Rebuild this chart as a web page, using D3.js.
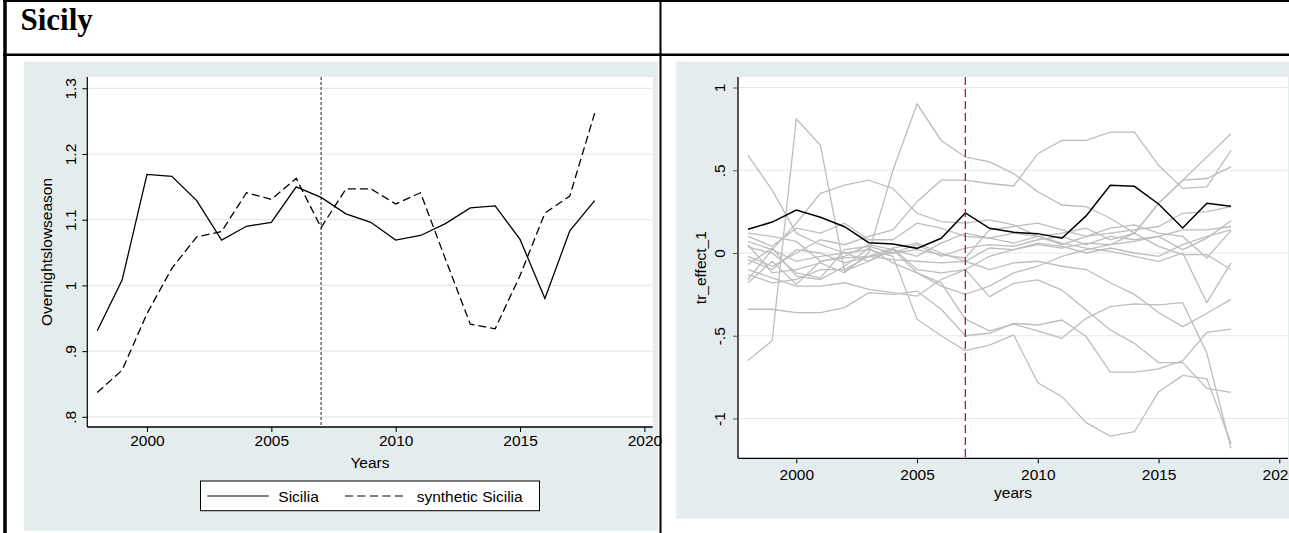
<!DOCTYPE html>
<html>
<head>
<meta charset="utf-8">
<script src="https://cdn.jsdelivr.net/npm/d3@7"></script>
<style>
  body { margin: 0; background: #fff; }
  svg { display: block; font-family: "Liberation Sans", Arial, Helvetica, sans-serif; }
</style>
</head>
<body>
<div id="chart"></div>
<script>
// ---- data ----
const years = [1998, 1999, 2000, 2001, 2002, 2003, 2004, 2005, 2006, 2007, 2008,
               2009, 2010, 2011, 2012, 2013, 2014, 2015, 2016, 2017, 2018];

const sicilia = [0.931, 1.008, 1.169, 1.166, 1.129, 1.069, 1.090, 1.096, 1.150, 1.134, 1.109,
                 1.096, 1.069, 1.076, 1.094, 1.118, 1.121, 1.070, 0.980, 1.083, 1.129];
const syntheticSicilia = [0.837, 0.871, 0.957, 1.026, 1.074, 1.082, 1.141, 1.131, 1.163, 1.088, 1.147,
                          1.147, 1.124, 1.141, 1.040, 0.941, 0.934, 1.015, 1.110, 1.136, 1.262];

const trEffectSicilia = [0.143, 0.187, 0.260, 0.216, 0.159, 0.062, 0.054, 0.028, 0.089, 0.242, 0.149,
                         0.125, 0.117, 0.089, 0.224, 0.409, 0.403, 0.296, 0.151, 0.300, 0.282];

// placebo effects of the donor regions
const placebo01 = [0.59, 0.38, 0.12, 0.05, 0.00, -0.05, 0.02, -0.02, 0.06, 0.12, 0.09, 0.06, 0.10, 0.12, 0.15, 0.08, 0.12, 0.30, 0.44, 0.45, 0.52];
const placebo02 = [-0.65, -0.53, 0.81, 0.65, -0.11, -0.05, 0.03, -0.10, -0.12, -0.10, -0.02, 0.02, 0.05, 0.03, 0.06, 0.05, 0.12, 0.30, 0.44, 0.58, 0.72];
const placebo03 = [0.05, -0.12, -0.10, -0.06, -0.12, 0.00, 0.50, 0.90, 0.68, 0.58, 0.55, 0.48, 0.37, 0.29, 0.28, 0.21, 0.12, 0.04, -0.01, -0.01, -0.10];
const placebo04 = [-0.16, 0.02, 0.18, 0.36, 0.41, 0.44, 0.39, 0.24, 0.19, 0.18, 0.20, 0.17, 0.10, 0.06, 0.03, 0.01, -0.02, -0.05, 0.00, -0.30, -0.06];
const placebo05 = [-0.02, -0.08, 0.00, 0.08, 0.05, 0.10, 0.14, 0.31, 0.44, 0.44, 0.42, 0.405, 0.60, 0.68, 0.68, 0.73, 0.73, 0.53, 0.39, 0.40, 0.62];
const placebo06 = [-0.34, -0.34, -0.36, -0.36, -0.33, -0.24, -0.25, -0.23, -0.34, -0.50, -0.485, -0.425, -0.435, -0.405, -0.505, -0.72, -0.72, -0.70, -0.65, -0.48, -0.46];
const placebo07 = [0.07, 0.02, -0.05, -0.02, 0.00, 0.02, -0.02, -0.40, -0.50, -0.59, -0.556, -0.495, -0.784, -0.868, -1.025, -1.106, -1.08, -0.84, -0.74, -0.76, -1.15];
const placebo08 = [-0.10, -0.15, -0.20, -0.20, -0.18, -0.22, -0.24, -0.26, -0.16, -0.10, -0.264, -0.183, -0.163, -0.224, -0.344, -0.465, -0.546, -0.662, -0.662, -0.818, -0.842];
const placebo09 = [-0.07, 0.03, -0.14, -0.16, -0.08, 0.03, -0.06, -0.12, -0.18, -0.40, -0.47, -0.43, -0.47, -0.515, -0.395, -0.324, -0.308, -0.314, -0.30, -0.606, -1.18];
const placebo10 = [-0.04, -0.10, 0.02, 0.00, -0.06, -0.02, -0.04, -0.05, -0.06, -0.05, -0.10, -0.06, -0.05, -0.08, -0.10, -0.18, -0.25, -0.36, -0.445, -0.364, -0.28];
const placebo11 = [0.10, 0.04, 0.15, 0.12, 0.18, 0.08, 0.08, 0.18, 0.15, 0.10, 0.09, 0.12, 0.10, 0.05, 0.10, 0.12, 0.14, 0.16, 0.24, 0.25, 0.28];
const placebo12 = [0.035, 0.00, -0.12, -0.15, 0.02, 0.04, 0.00, 0.05, -0.02, 0.03, 0.05, 0.04, 0.08, 0.10, 0.05, 0.10, 0.08, 0.10, 0.02, 0.09, 0.195];
const placebo13 = [-0.13, -0.18, -0.16, -0.10, -0.10, -0.02, 0.00, 0.02, -0.01, -0.03, 0.14, 0.16, 0.18, 0.14, 0.10, 0.15, 0.17, 0.12, 0.10, -0.03, 0.135];
const placebo14 = [0.12, 0.10, 0.07, -0.05, -0.02, 0.05, 0.02, -0.12, -0.20, -0.25, -0.20, -0.12, -0.08, -0.02, 0.02, 0.05, 0.07, 0.10, 0.14, 0.14, 0.16];
const placebo15 = [-0.18, -0.05, -0.19, -0.05, -0.03, -0.02, 0.03, 0.06, 0.00, -0.05, 0.03, 0.02, 0.06, 0.04, 0.00, 0.03, 0.00, -0.02, 0.05, 0.10, 0.14];
const placeboSeries = [placebo01, placebo02, placebo03, placebo04, placebo05, placebo06, placebo07, placebo08,
                       placebo09, placebo10, placebo11, placebo12, placebo13, placebo14, placebo15];

const xTicks = [2000, 2005, 2010, 2015, 2020];
const leftYTicks = [0.8, 0.9, 1, 1.1, 1.2, 1.3];
const leftYTickLabels = ['.8', '.9', '1', '1.1', '1.2', '1.3'];
const rightYTicks = [-1, -0.5, 0, 0.5, 1];
const rightYTickLabels = ['-1', '-.5', '0', '.5', '1'];
const treatmentYear = 2007;
const legendLabels = ['Sicilia', 'synthetic Sicilia'];

// ---- page ----
const W = 1289, H = 533;
const panelFill = '#e4eced';
const gridColor = '#e2eaec';
const labelSize = '15.5px';

const svg = d3.select('#chart').append('svg')
  .attr('width', W)
  .attr('height', H);

svg.append('text')
  .attr('x', 20.5)
  .attr('y', 30)
  .style('font-family', '"Liberation Serif", "Times New Roman", serif')
  .style('font-weight', 'bold')
  .style('font-size', '31px')
  .text('Sicily');

// draws the common frame of one Stata-like graph and returns scales + plot group
function drawFrame(cfg) {
  const g = svg.append('g');
  g.append('rect')
    .attr('x', cfg.panel[0]).attr('y', cfg.panel[1])
    .attr('width', cfg.panel[2]).attr('height', cfg.panel[3])
    .attr('fill', panelFill);
  g.append('rect')
    .attr('x', cfg.left).attr('y', cfg.top)
    .attr('width', cfg.right - cfg.left).attr('height', cfg.bottom - cfg.top)
    .attr('fill', '#fff');

  const x = d3.scaleLinear().domain(cfg.xDomain).range([cfg.left, cfg.right]);
  const y = d3.scaleLinear().domain(cfg.yDomain).range([cfg.bottom, cfg.top]);

  // horizontal grid
  g.selectAll('.grid')
    .data(cfg.yTicks)
    .join('line')
    .attr('class', 'grid')
    .attr('x1', cfg.left).attr('x2', cfg.right)
    .attr('y1', d => y(d)).attr('y2', d => y(d))
    .attr('stroke', gridColor)
    .attr('stroke-width', 1.2);

  // y axis
  const yAxis = g.append('g')
    .attr('transform', `translate(${cfg.left},0)`)
    .call(d3.axisLeft(y).tickValues(cfg.yTicks)
      .tickFormat((d, i) => cfg.yTickLabels[i])
      .tickSize(5).tickSizeOuter(0));
  yAxis.select('.domain').attr('stroke', cfg.yAxisColor).attr('stroke-width', cfg.yAxisWidth)
    .attr('d', `M0,${cfg.top}V${cfg.bottom}`);
  yAxis.selectAll('.tick line').attr('stroke', cfg.yAxisColor);
  yAxis.selectAll('.tick text')
    .attr('transform', 'rotate(-90)')
    .attr('x', 0).attr('y', cfg.yLabelOffset).attr('dy', 0)
    .attr('text-anchor', 'middle')
    .style('font-size', labelSize)
    .attr('fill', '#000');

  // x axis
  const xAxis = g.append('g')
    .attr('transform', `translate(0,${cfg.bottom})`)
    .call(d3.axisBottom(x).tickValues(xTicks).tickFormat(d3.format('d'))
      .tickSize(5).tickSizeOuter(0));
  xAxis.select('.domain').attr('stroke', '#000').attr('stroke-width', 1.3)
    .attr('d', `M${cfg.left},0H${cfg.right}`);
  xAxis.selectAll('.tick line').attr('stroke', '#000');
  xAxis.selectAll('.tick text')
    .attr('y', cfg.xLabelY).attr('dy', 0)
    .style('font-size', labelSize)
    .attr('fill', '#000');

  // axis titles
  g.append('text')
    .attr('transform', `translate(${cfg.yTitleX},${(cfg.top + cfg.bottom) / 2}) rotate(-90)`)
    .attr('text-anchor', 'middle')
    .style('font-size', labelSize)
    .text(cfg.yTitle);
  g.append('text')
    .attr('x', (cfg.left + cfg.right) / 2)
    .attr('y', cfg.xTitleY)
    .attr('text-anchor', 'middle')
    .style('font-size', labelSize)
    .text(cfg.xTitle);

  return { g, x, y };
}

// ---- left graph: Sicilia vs synthetic Sicilia ----
const left = drawFrame({
  panel: [24, 61.7, 634, 469],
  left: 87.3, right: 652.7, top: 77, bottom: 427,
  xDomain: [1997.6, 2020.334], yDomain: [0.7845, 1.3172],
  yTicks: leftYTicks, yTickLabels: leftYTickLabels,
  yAxisColor: '#000', yAxisWidth: 1.2, yLabelOffset: -11,
  xLabelY: 19, yTitle: 'Overnightslowseason', yTitleX: 52,
  xTitle: 'Years', xTitleY: 467.5
});

const leftLine = d3.line().x((d, i) => left.x(years[i])).y(d => left.y(d));

left.g.append('line')
  .attr('x1', left.x(treatmentYear)).attr('x2', left.x(treatmentYear))
  .attr('y1', 77).attr('y2', 427)
  .attr('stroke', '#222').attr('stroke-width', 1)
  .attr('stroke-dasharray', '3,2');

left.g.append('path')
  .datum(syntheticSicilia)
  .attr('d', leftLine)
  .attr('fill', 'none')
  .attr('stroke', '#000').attr('stroke-width', 1.3)
  .attr('stroke-dasharray', '8,4');

left.g.append('path')
  .datum(sicilia)
  .attr('d', leftLine)
  .attr('fill', 'none')
  .attr('stroke', '#000').attr('stroke-width', 1.3);

// legend
const legend = left.g.append('g');
legend.append('rect')
  .attr('x', 200.5).attr('y', 481)
  .attr('width', 339).attr('height', 29.7)
  .attr('fill', '#fff').attr('stroke', '#000').attr('stroke-width', 1);
const legendItems = [
  { x1: 207.3, x2: 268.7, tx: 278.3, dash: null },
  { x1: 345, x2: 407.3, tx: 416.7, dash: '8,4.5' }
];
legendItems.forEach((it, i) => {
  legend.append('line')
    .attr('x1', it.x1).attr('x2', it.x2)
    .attr('y1', 496).attr('y2', 496)
    .attr('stroke', '#000').attr('stroke-width', 1.2)
    .attr('stroke-dasharray', it.dash);
  legend.append('text')
    .attr('x', it.tx).attr('y', 501.8)
    .style('font-size', labelSize)
    .text(legendLabels[i]);
});

// ---- right graph: treatment effect with placebo runs ----
const right = drawFrame({
  panel: [676, 61.7, 613, 457],
  left: 738, right: 1288, top: 77, bottom: 458.3,
  xDomain: [1997.586, 2020.36], yDomain: [-1.2405, 1.0634],
  yTicks: rightYTicks, yTickLabels: rightYTickLabels,
  yAxisColor: '#555', yAxisWidth: 2, yLabelOffset: -13,
  xLabelY: 21.7, yTitle: 'tr_effect_1', yTitleX: 706,
  xTitle: 'years', xTitleY: 498
});

const rightLine = d3.line().x((d, i) => right.x(years[i])).y(d => right.y(d));

right.g.selectAll('.placebo')
  .data(placeboSeries)
  .join('path')
  .attr('class', 'placebo')
  .attr('d', rightLine)
  .attr('fill', 'none')
  .attr('stroke', '#bdbdbd')
  .attr('stroke-width', 1.3);

right.g.append('path')
  .datum(trEffectSicilia)
  .attr('d', rightLine)
  .attr('fill', 'none')
  .attr('stroke', '#000')
  .attr('stroke-width', 1.5);

right.g.append('line')
  .attr('x1', right.x(treatmentYear)).attr('x2', right.x(treatmentYear))
  .attr('y1', 77).attr('y2', 458.3)
  .attr('stroke', '#b0163f').attr('stroke-width', 1.3)
  .attr('stroke-dasharray', '8,4');

// ---- table rules around the two cells ----
const rules = svg.append('g').attr('stroke', '#000');
rules.append('line').attr('x1', 3).attr('x2', W).attr('y1', 1).attr('y2', 1).attr('stroke-width', 2);
rules.append('line').attr('x1', 3).attr('x2', W).attr('y1', 54.7).attr('y2', 54.7).attr('stroke-width', 2.5);
rules.append('line').attr('x1', 5).attr('x2', 5).attr('y1', 0).attr('y2', H).attr('stroke-width', 3.5);
rules.append('line').attr('x1', 660.5).attr('x2', 660.5).attr('y1', 0).attr('y2', H).attr('stroke-width', 2);
</script>
</body>
</html>
